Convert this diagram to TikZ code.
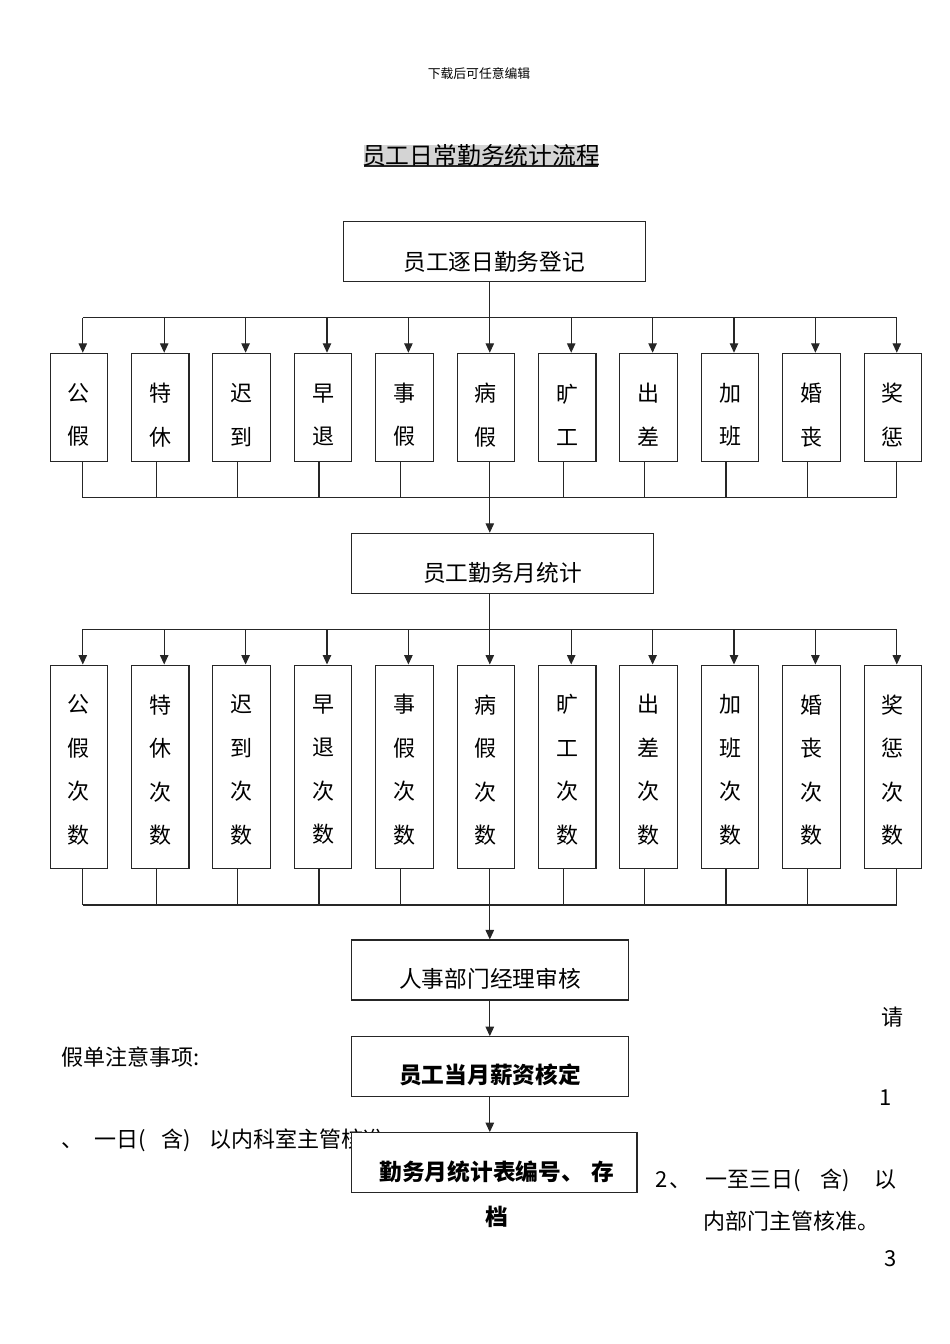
\documentclass[tikz,border=0pt]{standalone}
\usepackage{fontspec}
\setmainfont{Noto Sans CJK SC}
\usetikzlibrary{arrows.meta}

\tikzset{
  line/.style={line width=1.1pt, draw=black!85},
  arr/.style={line, -{Triangle[length=9.5pt,width=8.5pt]}},
  mainbox/.style={draw=black!85, line width=1.1pt, fill=white, minimum height=60pt, inner sep=0pt},
  cellbox/.style={draw=black!85, line width=1.1pt, fill=white, minimum width=57.5pt, inner sep=0pt},
  celltext/.style={align=center, inner sep=0pt, font=\fontsize{22}{43.5}\selectfont},
  maintext/.style={align=center, inner sep=0pt, font=\fontsize{22.7}{44.7}\selectfont},
  notetext/.style={inner sep=0pt, anchor=west, font=\fontsize{22}{26}\selectfont},
}

\begin{document}
\begin{tikzpicture}[x=1pt,y=1pt,yscale=-1,xscale=1]
\useasboundingbox (0,0) rectangle (950,1344);

% Text Node
\node[inner sep=0pt, font=\fontsize{12.8}{14}\selectfont] (head) at (479,74) {下载后可任意编辑};
%Shape: Rectangle
\fill[black!17] (364,145) rectangle (598,166);
\draw[line] (364,166) -- (598,166);
% Text Node
\node[inner sep=0pt, font=\fontsize{23.8}{26}\selectfont] (title) at (481,155) {员工日常勤务统计流程};

%Shape: Rectangle
\node[mainbox, minimum width=301.7pt, label={[maintext, yshift=-10pt]center:员工逐日勤务登记}] (daily) at (494.2,251.7) {};
\node[mainbox, minimum width=301.6pt, label={[maintext, yshift=-10pt]center:员工勤务月统计}] (monthly) at (502.5,563.3) {};

% daily items
\foreach \a/\b [count=\i from 0] in {公/假,特/休,迟/到,早/退,事/假,病/假,旷/工,出/差,加/班,婚/丧,奖/惩}{
  \pgfmathsetmacro\cx{78.8+81.4*\i}
  \pgfmathsetmacro\bx{(\i==0||\i==5||\i==10) ? \cx+4 : \cx-4}
  \node[cellbox, minimum height=108.4pt, label={[celltext, yshift=-7.4pt]center:{\a\\\b}}] (d\i) at (\cx,407.5) {};
  \coordinate (da\i) at (\cx+4,317.5);
  \coordinate (db\i) at (\bx,497.5);
  \draw[arr] (da\i) -- (da\i |- d\i.north);
  \draw[line] (d\i.south -| db\i) -- (db\i);
}
%Straight Lines
\draw[line] (da0) -- (da10);
\draw[line] (db0) -- (db10);
\draw[line] (daily.south -| da5) -- (da5);
\draw[arr] (db5) -- (db5 |- monthly.north);

% monthly items
\foreach \a/\b [count=\i from 0] in {公/假,特/休,迟/到,早/退,事/假,病/假,旷/工,出/差,加/班,婚/丧,奖/惩}{
  \pgfmathsetmacro\cx{78.8+81.4*\i}
  \pgfmathsetmacro\bx{(\i==0||\i==5||\i==10) ? \cx+4 : \cx-4}
  \node[cellbox, minimum height=203.7pt, label={[celltext, yshift=-3pt]center:{\a\\\b\\次\\数}}] (m\i) at (\cx,766.9) {};
  \coordinate (ma\i) at (\cx+4,629.3);
  \coordinate (mb\i) at (\bx,905);
  \draw[arr] (ma\i) -- (ma\i |- m\i.north);
  \draw[line] (m\i.south -| mb\i) -- (mb\i);
}
%Straight Lines
\draw[line] (ma0) -- (ma10);
\draw[line] (mb0) -- (mb10);
\draw[line] (monthly.south -| ma5) -- (ma5);

% Text Node
\node[notetext, anchor=center] (n0) at (892,1017) {请};
\node[notetext] (n1) at (61,1057) {假单注意事项:};
\node[notetext, anchor=center] (n2) at (886,1098) {1};
\node[notetext] (n3) at (61,1140) {、\hspace{11pt}一日(\hspace{16pt}含)\hspace{18pt}以内科室主管核准};
\node[notetext] (n4) at (655,1180) {2\hspace{2pt}、\hspace{14pt}一至三日(\hspace{20pt}含)\hspace{24pt}以};
\node[notetext] (n5) at (703,1221) {内部门主管核准。};
\node[notetext, anchor=center] (n6) at (891,1259) {3};

%Shape: Rectangle
\node[mainbox, minimum width=276.6pt, label={[maintext, yshift=-9pt]center:人事部门经理审核}] (review) at (490,970) {};
\node[mainbox, minimum width=276.6pt, label={[maintext, yshift=-8pt]center:\bfseries 员工当月薪资核定}] (salary) at (490,1066.7) {};
\node[mainbox, minimum width=285.3pt, minimum height=59.6pt, label={[maintext, yshift=-31.8pt, xshift=2.7pt]center:\bfseries 勤务月统计表编号、\hspace{8pt}存\\\bfseries 档}] (archive) at (494.3,1162.5) {};

%Straight Lines
\draw[arr] (mb5) -- (mb5 |- review.north);
\draw[arr] (review.south -| mb5) -- (mb5 |- salary.north);
\draw[arr] (salary.south -| mb5) -- (mb5 |- archive.north);

\end{tikzpicture}
\end{document}
